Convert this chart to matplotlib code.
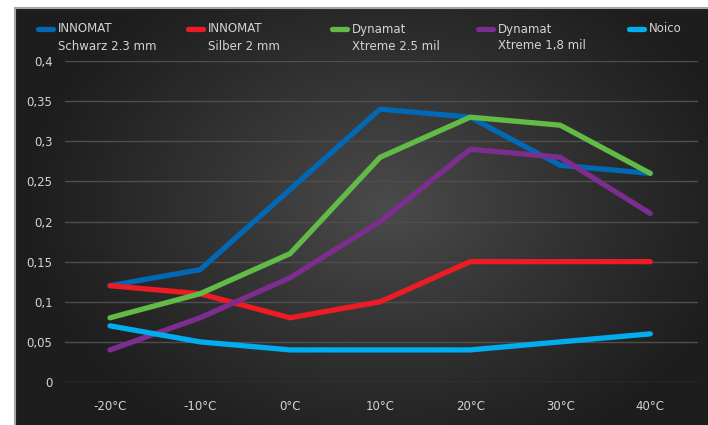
import numpy as np
import matplotlib
matplotlib.use("Agg")
import matplotlib.pyplot as plt
from matplotlib.lines import Line2D

plt.rcParams['font.family'] = ['Liberation Sans Narrow', 'DejaVu Sans']

# data
temps = ['-20°C', '-10°C', '0°C', '10°C', '20°C', '30°C', '40°C']
innomat_schwarz = [0.12, 0.14, 0.24, 0.34, 0.33, 0.27, 0.26]
innomat_silber = [0.12, 0.11, 0.08, 0.10, 0.15, 0.15, 0.15]
dynamat_25 = [0.08, 0.11, 0.16, 0.28, 0.33, 0.32, 0.26]
dynamat_18 = [0.04, 0.08, 0.13, 0.20, 0.29, 0.28, 0.21]
noico = [0.07, 0.05, 0.04, 0.04, 0.04, 0.05, 0.06]

names = [('INNOMAT', 'Schwarz 2.3 mm'), ('INNOMAT', 'Silber 2 mm'),
         ('Dynamat', 'Xtreme 2.5 mil'), ('Dynamat', 'Xtreme 1,8 mil'),
         ('Noico', '')]
series = [innomat_schwarz, innomat_silber, dynamat_25, dynamat_18, noico]
colors = ['#0068b5', '#ed1c24', '#62bb46', '#7c2d8f', '#00aeef']

yticks = [0, 0.05, 0.1, 0.15, 0.2, 0.25, 0.3, 0.35, 0.4]
ytick_labels = ['0', '0,05', '0,1', '0,15', '0,2', '0,25', '0,3', '0,35', '0,4']

W, H = 708, 425
fig = plt.figure(figsize=(W / 100, H / 100), dpi=100)
fig.patch.set_facecolor('white')

# dark radial gradient background
bx0, by0 = 15, 8
bg = fig.add_axes([bx0 / W, 0, (W - bx0) / W, (H - by0) / H], zorder=-1)
xx, yy = np.meshgrid(np.arange(bx0, W), np.arange(by0, H))
r = np.sqrt(((xx - 385) / 360) ** 2 + ((yy - 205) / 270) ** 2)
v = (30 + 46 * np.clip(1 - r, 0, 1) ** 1.1) / 255
img = np.dstack([v, v * 0.985, v * 0.99])
bg.imshow(img, extent=[0, 1, 0, 1], aspect='auto', interpolation='bilinear')
bg.set_xlim(0, 1)
bg.set_ylim(0, 1)
bg.axis('off')

# thin grey frame on the left and top of the dark panel
top = (H - by0) / H
fig.add_artist(Line2D([bx0 / W, bx0 / W], [0, top], transform=fig.transFigure,
                      color='#a6a6a6', linewidth=1.5))
fig.add_artist(Line2D([bx0 / W, 1], [top, top], transform=fig.transFigure,
                      color='#a6a6a6', linewidth=1.5))

ax = fig.add_axes([65 / W, 43 / H, 633 / W, 321 / H])
ax.set_facecolor('none')
x = np.arange(len(temps))
for vals, c in zip(series, colors):
    ax.plot(x, vals, color=c, linewidth=3.8, solid_capstyle='round',
            solid_joinstyle='round', zorder=3)

ax.set_xlim(-0.5, 6.53)
ax.set_ylim(0, 0.4)
ax.set_yticks(yticks)
ax.set_yticklabels(ytick_labels)
ax.set_xticks(x)
ax.set_xticklabels(temps)
ax.grid(axis='y', color='#4e4e4e', linewidth=1.0)
ax.set_axisbelow(True)
ax.tick_params(length=0, colors='#d4d4d4', labelsize=8.5)
ax.tick_params(axis='y', pad=9)
ax.tick_params(axis='x', pad=13)
for s in ax.spines.values():
    s.set_visible(False)

# legend across the top
leg_x = [36, 186, 330, 476, 627]
for lx, (n1, n2), c in zip(leg_x, names, colors):
    fig.add_artist(Line2D([(lx + 2) / W, (lx + 17) / W], [1 - 29 / H, 1 - 29 / H],
                          transform=fig.transFigure, color=c, linewidth=3.8,
                          solid_capstyle='round'))
    fig.text((lx + 22) / W, 1 - 29 / H, n1, color='#d4d4d4', fontsize=8.5,
             va='center', ha='left')
    if n2:
        fig.text((lx + 22) / W, 1 - 46 / H, n2, color='#d4d4d4', fontsize=8.5,
                 va='center', ha='left')

fig.savefig('out.png', dpi=100, facecolor=fig.get_facecolor())
